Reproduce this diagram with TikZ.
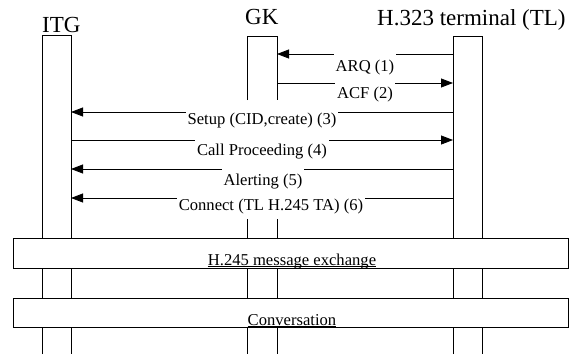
\documentclass[tikz,border=0pt]{standalone}
\usepackage{fontspec}
\setmainfont{Liberation Serif}
\usetikzlibrary{arrows.meta}
\begin{document}
\begin{tikzpicture}[x=1pt,y=-1pt,
  life/.style={line width=0.8pt},
  msg/.style={line width=0.8pt,-{Triangle[length=12pt,width=9pt]}},
  msglbl/.style={fill=white,inner xsep=2pt,inner ysep=5pt,anchor=base,font=\fontsize{16.6}{19}\selectfont},
  title/.style={anchor=base west,inner sep=0pt,font=\fontsize{23}{27}\selectfont},
  phase/.style={draw,fill=white,line width=0.8pt,minimum width=555pt,inner sep=0pt},
  phaselbl/.style={anchor=base,inner sep=0pt,font=\fontsize{16.6}{19}\selectfont}]
\useasboundingbox (0,0) rectangle (580,354);
% titles
\node[title] (itg) at (42,32) {ITG};
\node[title] (gk) at (245,24) {GK};
\node[title] (tl) at (377,25) {H.323 terminal (TL)};
% lifeline coordinates
\coordinate (itgLt) at (42,35);  \coordinate (itgRt) at (71,35);
\coordinate (itgLb) at (42,354); \coordinate (itgRb) at (71,354);
\coordinate (gkLt) at (247,36);  \coordinate (gkRt) at (277,36);
\coordinate (gkLm) at (247,100); \coordinate (gkRm) at (277,100);
\coordinate (gkLr) at (247,198); \coordinate (gkRr) at (277,198);
\coordinate (gkLb) at (247,354); \coordinate (gkRb) at (277,354);
\coordinate (tlLt) at (453,36);  \coordinate (tlRt) at (482,36);
\coordinate (tlLb) at (453,354); \coordinate (tlRb) at (482,354);
\draw[life] (itgLb) -- (itgLt) -- (itgRt) -- (itgRb);
\draw[life] (gkLm) -- (gkLt) -- (gkRt) -- (gkRm);
\draw[life] (gkLr) -- (gkLb);
\draw[life] (gkRr) -- (gkRb);
\draw[life] (tlLb) -- (tlLt) -- (tlRt) -- (tlRb);
% phase boxes
\node[phase,minimum height=30pt] (h245) at (290.5,253) {};
\node[phase,minimum height=29pt] (conv) at (290.5,312.5) {};
\node[phaselbl] (h245lbl) at (292,265.5) {H.245 message exchange};
\draw[line width=0.7pt] ([yshift=-1pt]h245lbl.base west) -- ([yshift=-1pt]h245lbl.base east);
\node[phaselbl] (convlbl) at (292,325) {Conversation};
\draw[line width=0.7pt] ([yshift=-1pt]convlbl.base west) -- ([yshift=-1pt]convlbl.base east);
% message endpoints
\coordinate (m1a) at (453,54);  \coordinate (m1b) at (277,54);
\coordinate (m2a) at (277,83);  \coordinate (m2b) at (453,83);
\coordinate (m3a) at (453,112); \coordinate (m3b) at (71,112);
\coordinate (m4a) at (71,140);  \coordinate (m4b) at (453,140);
\coordinate (m5a) at (453,169); \coordinate (m5b) at (71,169);
\coordinate (m6a) at (453,198); \coordinate (m6b) at (71,198);
\draw[msg] (m1a) -- (m1b);
\draw[msg] (m2a) -- (m2b);
\draw[msg] (m3a) -- (m3b);
\draw[msg] (m4a) -- (m4b);
\draw[msg] (m5a) -- (m5b);
\draw[msg] (m6a) -- (m6b);
% message labels
\node[msglbl] (l1) at (365,71) {ARQ (1)};
\node[msglbl] (l2) at (365,98) {ACF (2)};
\node[msglbl] (l3) at (262,124) {Setup (CID,create) (3)};
\node[msglbl] (l4) at (262,155) {Call Proceeding (4)};
\node[msglbl] (l5) at (263,185) {Alerting (5)};
\node[msglbl] (l6) at (271,210) {Connect (TL H.245 TA) (6)};
\end{tikzpicture}
\end{document}
